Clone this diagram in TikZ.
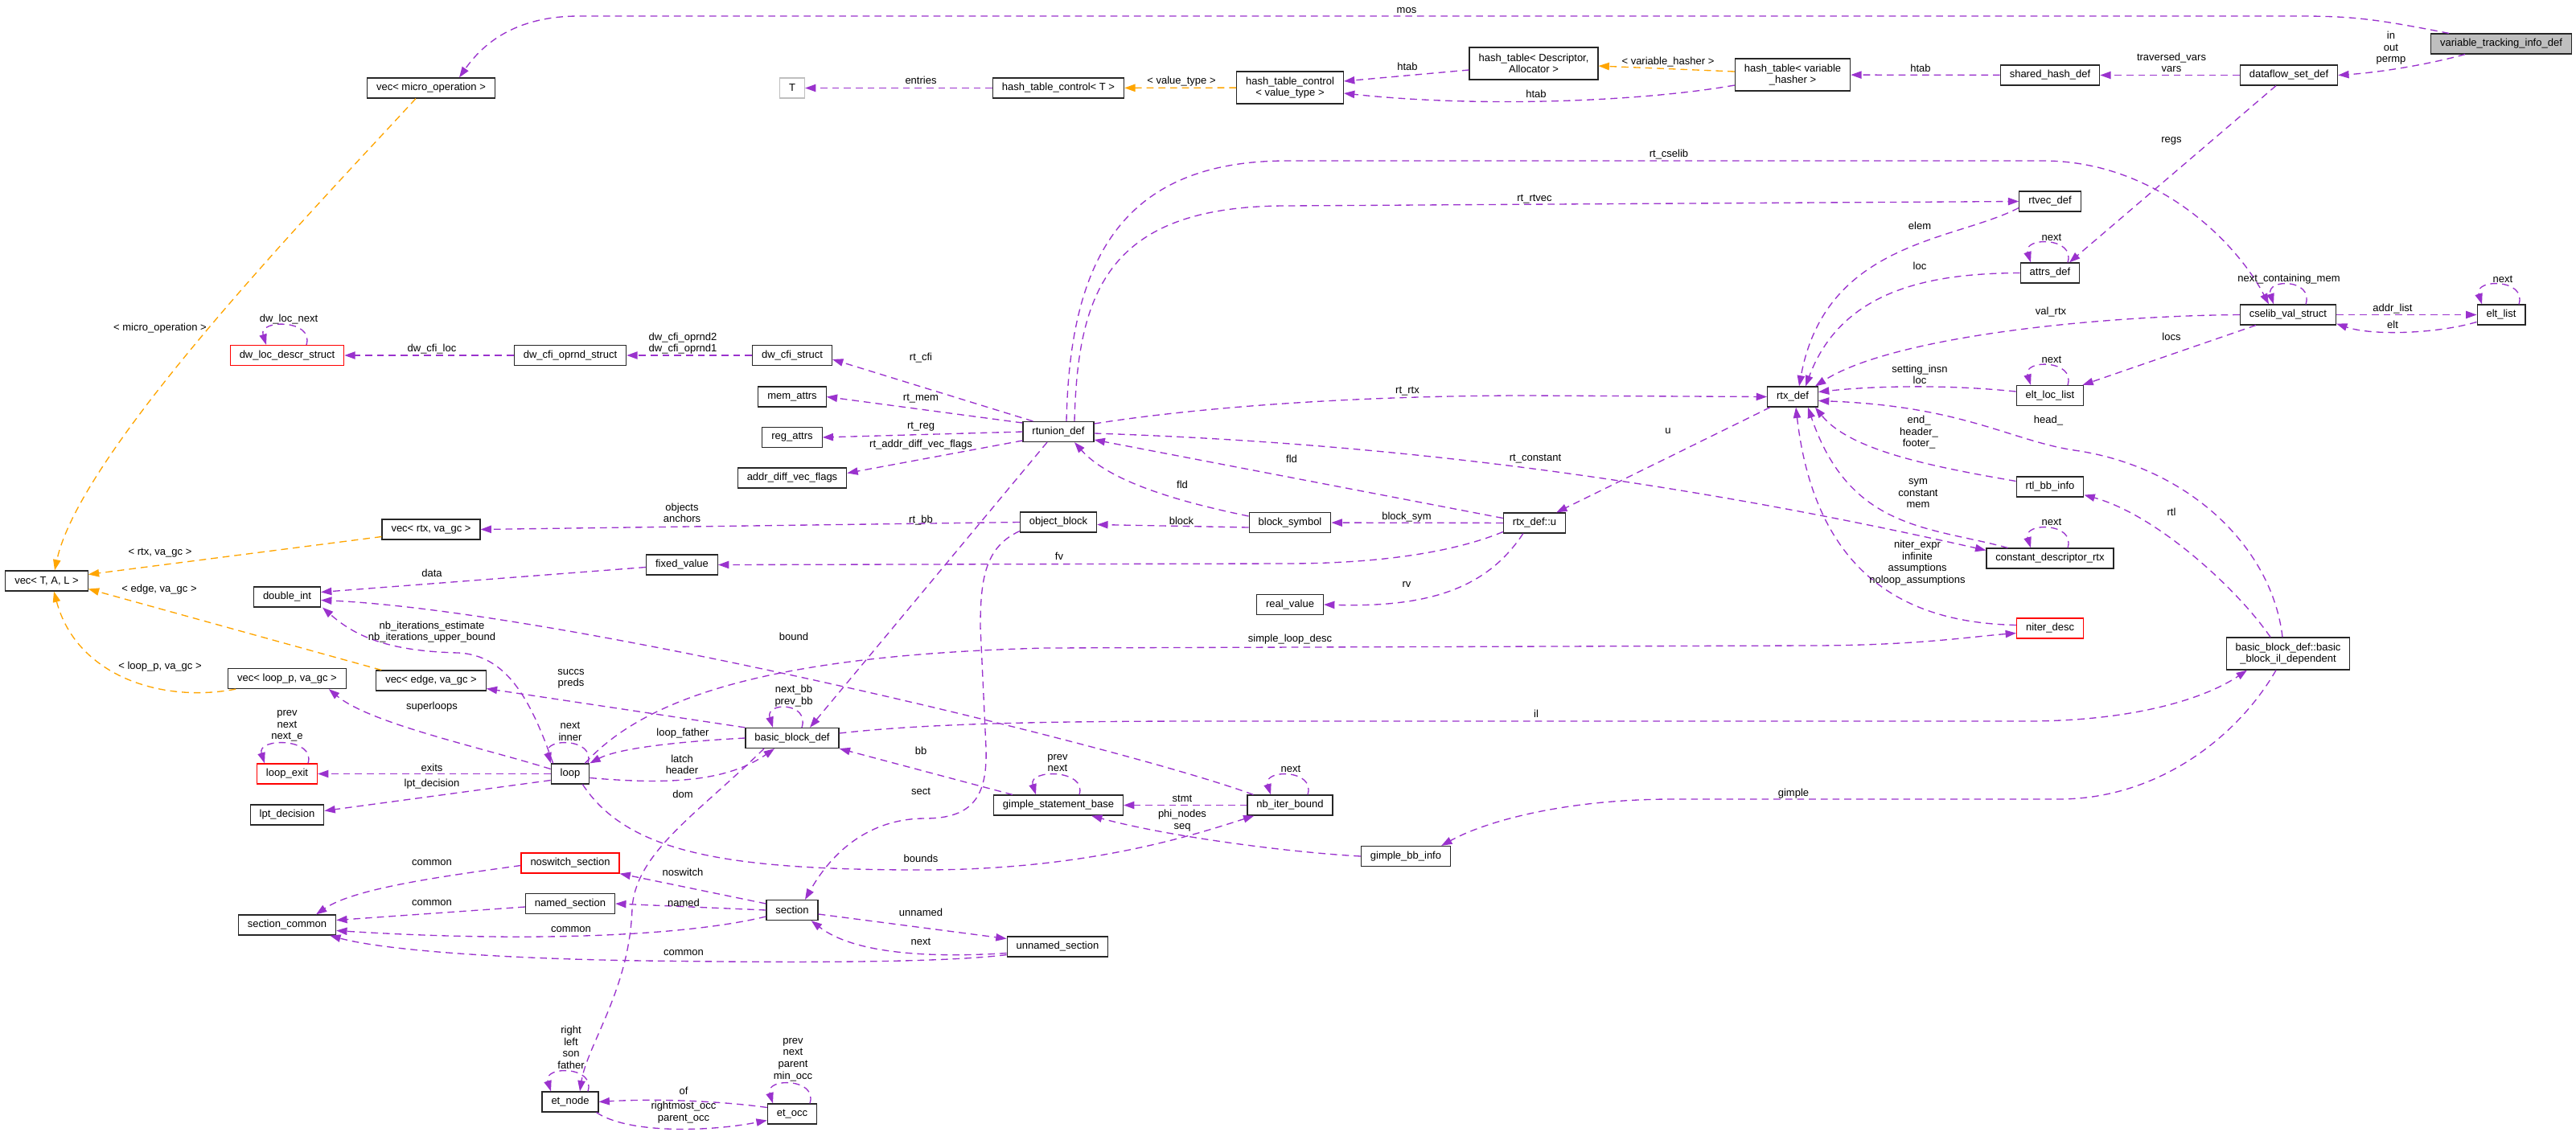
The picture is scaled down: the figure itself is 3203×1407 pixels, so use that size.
\documentclass[tikz,border=0pt]{standalone}
\usepackage{fontspec}
\setmainfont{Liberation Sans}
\usetikzlibrary{arrows.meta,calc}
\definecolor{edgepurple}{HTML}{9A32CD}
\definecolor{tmplorange}{HTML}{FFA500}
\definecolor{rootgray}{HTML}{BFBFBF}

\begin{document}
\begin{tikzpicture}[x=0.75pt,y=-0.75pt,
  every node/.style={font=\fontsize{9.75pt}{10.9pt}\selectfont},
  cls/.style={draw=black!85, line width=0.9pt, fill=white, inner xsep=8.6pt, inner ysep=2pt, minimum height=18.75pt, align=center},
  cls2/.style={cls, minimum height=30pt},
  nodoc/.style={cls, draw=red},
  root/.style={cls, fill=rootgray},
  tpar/.style={cls, draw=rootgray},
  lbl/.style={inner sep=0pt, align=center},
  memb/.style={edgepurple, line width=1pt, dash pattern=on 6.5pt off 4.5pt, -{Triangle[length=10pt,width=7pt]}},
  tmpl/.style={memb, tmplorange}]

  \useasboundingbox (0,0) rectangle (3203,1407);

  % Classes, top band
  \node[root] (vartrack) at (3110,54.5) {variable\_tracking\_info\_def};
  \node[cls] (dataflow) at (2846,93.5) {dataflow\_set\_def};
  \node[cls] (sharedhash) at (2549,93.5) {shared\_hash\_def};
  \node[cls2] (htvar) at (2229,93) {hash\_table< variable\\\_hasher >};
  \node[cls2] (htdesc) at (1907,79) {hash\_table< Descriptor,\\Allocator >};
  \node[cls2] (htcvt) at (1604,109) {hash\_table\_control\\< value\_type >};
  \node[cls] (htct) at (1316,109.5) {hash\_table\_control< T >};
  \node[tpar] (tparam) at (985,109.5) {T};
  \node[cls] (vecmo) at (536,109.5) {vec< micro\_operation >};

  % Classes, rtx part
  \node[cls] (rtvec) at (2549,250.5) {rtvec\_def};
  \node[cls] (attrs) at (2549,339.5) {attrs\_def};
  \node[cls] (cselib) at (2845,391.5) {cselib\_val\_struct};
  \node[cls] (eltlist) at (3110,391.5) {elt\_list};
  \node[cls] (eltloc) at (2549,492) {elt\_loc\_list};
  \node[cls] (rtxdef) at (2229,493.5) {rtx\_def};
  \node[cls] (rtlbb) at (2549,605.5) {rtl\_bb\_info};
  \node[cls] (constdesc) at (2549,694.5) {constant\_descriptor\_rtx};
  \node[nodoc] (niter) at (2549,781.5) {niter\_desc};
  \node[cls2] (bbil) at (2845,813) {basic\_block\_def::basic\\\_block\_il\_dependent};
  \node[cls] (rtxu) at (1908,650.5) {rtx\_def::u};
  \node[cls] (blocksym) at (1604,650) {block\_symbol};
  \node[cls] (realval) at (1604,752) {real\_value};
  \node[cls] (rtunion) at (1316,537) {rtunion\_def};
  \node[cls] (objblock) at (1316,649.5) {object\_block};
  \node[cls] (memattrs) at (985,493.5) {mem\_attrs};
  \node[cls] (regattrs) at (985,544) {reg\_attrs};
  \node[cls] (addrdiff) at (985,594.5) {addr\_diff\_vec\_flags};
  \node[cls] (dwcfi) at (985,442) {dw\_cfi\_struct};
  \node[cls] (dwoprnd) at (709,442) {dw\_cfi\_oprnd\_struct};
  \node[nodoc] (dwloc) at (357,442) {dw\_loc\_descr\_struct};
  \node[cls] (fixedval) at (848,702.5) {fixed\_value};

  % Classes, vec and loop part
  \node[cls] (vectal) at (58,722.5) {vec< T, A, L >};
  \node[cls] (vecrtx) at (536,658.5) {vec< rtx, va\_gc >};
  \node[cls] (doubleint) at (357,742.5) {double\_int};
  \node[cls] (vecloop) at (357,844) {vec< loop\_p, va\_gc >};
  \node[cls] (vecedge) at (536,846.5) {vec< edge, va\_gc >};
  \node[cls] (bbdef) at (985,918) {basic\_block\_def};
  \node[nodoc] (loopexit) at (357,962.5) {loop\_exit};
  \node[cls] (loopn) at (709,962.5) {loop};
  \node[cls] (lptdec) at (357,1013.5) {lpt\_decision};
  \node[cls] (gsb) at (1316,1001.5) {gimple\_statement\_base};
  \node[cls] (nbiter) at (1604,1001.5) {nb\_iter\_bound};
  \node[cls] (gimplebb) at (1748,1065) {gimple\_bb\_info};

  % Classes, sections and et
  \node[nodoc] (noswitch) at (709,1073.5) {noswitch\_section};
  \node[cls] (namedsec) at (709,1124) {named\_section};
  \node[cls] (seccommon) at (357,1150.5) {section\_common};
  \node[cls] (section) at (985,1132) {section};
  \node[cls] (unnamedsec) at (1315,1177.5) {unnamed\_section};
  \node[cls] (etnode) at (709,1370.5) {et\_node};
  \node[cls] (etocc) at (985,1385.5) {et\_occ};

  % Member edges, top band
  \draw[memb] ($(vartrack.north)+(-65,0)$) .. controls (2960,25) and (2930,20) .. (2860,20) -- (720,20) .. controls (640,20) and (600,55) .. ($(vecmo.north)+(35,0)$);
  \draw[memb] ($(vartrack.south)+(-45,0)$) .. controls (3020,80) and (2960,90) .. (dataflow.east);
  \draw[memb] (dataflow) -- (sharedhash);
  \draw[memb] (sharedhash) -- (htvar);
  \draw[tmpl] ($(htvar.west)+(0,-4)$) -- ($(htdesc.east)+(0,3)$);
  \draw[memb] ($(htdesc.west)+(0,8)$) -- ($(htcvt.east)+(0,-8)$);
  \draw[memb] ($(htvar.west)+(0,13)$) .. controls (2050,125) and (1850,135) .. ($(htcvt.east)+(0,7)$);
  \draw[tmpl] (htcvt) -- (htct);
  \draw[memb] (htct) -- (tparam);
  \draw[memb] ($(dataflow.south)+(-16,0)$) -- ($(attrs.north)+(24,0)$);

  % Member edges, rtx part
  \draw[memb] ($(rtvec.west)+(0,8)$) .. controls (2430,300) and (2270,300) .. ($(rtxdef.north)+(8,0)$);
  \draw[memb] (attrs.west) .. controls (2400,340) and (2290,360) .. ($(rtxdef.north)+(16,0)$);
  \draw[memb] ($(rtunion.north)+(20,0)$) .. controls (1340,360) and (1380,256) .. (1600,256) -- (rtvec.west);
  \draw[memb] ($(rtunion.north)+(10,0)$) .. controls (1330,330) and (1390,200) .. (1600,200) -- (2540,200) .. controls (2680,200) and (2780,300) .. ($(cselib.north)+(-24,0)$);
  \draw[memb] (cselib) -- (eltlist);
  \draw[memb] ($(eltlist.west)+(0,9)$) .. controls (3030,415) and (2950,418) .. ($(cselib.south east)+(0,-2)$);
  \draw[memb] (cselib.west) .. controls (2600,393) and (2350,420) .. ($(rtxdef.north east)+(-4,0)$);
  \draw[memb] ($(cselib.south west)+(20,0)$) -- ($(eltloc.north east)+(-2,0)$);
  \draw[memb] ($(eltloc.west)+(0,-5)$) .. controls (2420,478) and (2330,480) .. ($(rtxdef.east)+(0,-6)$);
  \draw[memb] ($(rtunion.east)+(0,-10)$) .. controls (1500,505) and (1700,492) .. (1900,492) -- (rtxdef.west);
  \draw[memb] ($(rtxdef.south west)+(4,0)$) -- ($(rtxu.north east)+(-12,0)$);
  \draw[memb] ($(rtxu.west)+(0,-6)$) -- ($(rtunion.east)+(0,10)$);
  \draw[memb] ($(rtunion.east)+(0,2)$) .. controls (1700,550) and (2050,590) .. ($(constdesc.west)+(0,-10)$);
  \draw[memb] ($(constdesc.north west)+(27,0)$) .. controls (2400,655) and (2300,660) .. ($(rtxdef.south)+(19,0)$);
  \draw[memb] ($(rtlbb.west)+(0,-7)$) .. controls (2400,580) and (2300,560) .. ($(rtxdef.south east)+(-4,0)$);
  \draw[memb] ($(bbil.north)+(-7,0)$) .. controls (2825,680) and (2720,580) .. (2579,560) .. controls (2500,548) and (2440,505) .. ($(rtxdef.east)+(0,5)$);
  \draw[memb] ($(bbil.north)+(-22,0)$) .. controls (2780,730) and (2680,640) .. ($(rtlbb.south east)+(0,-3)$);
  \draw[memb] ($(niter.west)+(0,-4)$) .. controls (2400,775) and (2260,740) .. ($(rtxdef.south)+(4,0)$);
  \draw[memb] ($(blocksym.west)+(0,6)$) -- ($(objblock.east)+(0,3)$);
  \draw[memb] ($(blocksym.west)+(0,-8)$) .. controls (1470,625) and (1380,600) .. ($(rtunion.south)+(20,0)$);
  \draw[memb] (rtxu) -- (blocksym);
  \draw[memb] ($(rtxu.west)+(0,11)$) .. controls (1800,690) and (1700,701) .. (1600,701) -- (fixedval.east);
  \draw[memb] ($(rtxu.south west)+(25,0)$) .. controls (1850,730) and (1780,756) .. (realval.east);
  \draw[memb] ($(rtunion.west)+(0,-11)$) -- (memattrs.east);
  \draw[memb] (rtunion.west) -- (regattrs.east);
  \draw[memb] ($(rtunion.west)+(0,11)$) -- ($(addrdiff.east)+(0,-6)$);
  \draw[memb] ($(rtunion.north west)+(13,0)$) -- ($(dwcfi.east)+(0,5)$);
  \draw[memb] (dwcfi) -- (dwoprnd);
  \draw[memb] (dwoprnd) -- (dwloc);
  \draw[memb] ($(rtunion.south)+(-14,0)$) -- ($(bbdef.north)+(22,0)$);
  \draw[memb] ($(objblock.south west)+(0,-2)$) .. controls (1225,680) and (1219,720) .. (1219,780) -- (1226,930) .. controls (1228,990) and (1210,1018) .. (1150,1018) .. controls (1090,1018) and (1040,1050) .. ($(section.north)+(16,0)$);
  \draw[memb] (objblock.west) -- (vecrtx.east);

  % Template edges
  \draw[tmpl] ($(vecmo.south)+(-19,0)$) .. controls (400,250) and (100,560) .. ($(vectal.north)+(10,0)$);
  \draw[tmpl] ($(vecrtx.west)+(0,9)$) -- ($(vectal.east)+(0,-8)$);
  \draw[tmpl] ($(vecedge.north west)+(7,0)$) -- ($(vectal.east)+(0,10)$);
  \draw[tmpl] ($(vecloop.south west)+(10,0)$) .. controls (200,875) and (95,840) .. ($(vectal.south)+(9,0)$);

  % Member edges, loop part
  \draw[memb] ($(fixedval.west)+(0,3)$) -- ($(doubleint.east)+(0,-6)$);
  \draw[memb] ($(nbiter.north west)+(8,0)$) .. controls (1400,930) and (700,760) .. ($(doubleint.east)+(0,4)$);
  \draw[memb] ($(loopn.north west)+(3,0)$) .. controls (660,870) and (630,815) .. (570,812) .. controls (480,810) and (440,790) .. ($(doubleint.south east)+(2,0)$);
  \draw[memb] ($(loopn.west)+(0,-6)$) .. controls (600,930) and (460,900) .. ($(vecloop.south east)+(-22,0)$);
  \draw[memb] (bbdef.north west) -- ($(vecedge.east)+(0,10)$);
  \draw[memb] ($(loopn.north east)+(-6,0)$) .. controls (800,870) and (950,815) .. (1300,806) -- (2250,803) .. controls (2380,803) and (2450,792) .. ($(niter.west)+(0,6)$);
  \draw[memb] ($(loopn.east)+(0,5)$) .. controls (820,975) and (900,975) .. ($(bbdef.south)+(-22,0)$);
  \draw[memb] (bbdef.west) .. controls (850,922) and (770,930) .. (loopn.north east);
  \draw[memb] ($(loopn.south east)+(-9,0)$) .. controls (780,1060) and (900,1082) .. (1146,1082) .. controls (1350,1082) and (1480,1040) .. ($(nbiter.south west)+(9,0)$);
  \draw[memb] (loopn) -- (loopexit);
  \draw[memb] ($(loopn.west)+(0,8)$) -- ($(lptdec.east)+(0,-5)$);
  \draw[memb] ($(bbdef.east)+(0,-6)$) .. controls (1150,900) and (1300,897) .. (1500,897) -- (2520,897) .. controls (2650,897) and (2740,870) .. ($(bbil.south)+(-51,0)$);
  \draw[memb] ($(bbil.south)+(-15,0)$) .. controls (2780,920) and (2680,994) .. (2560,994) -- (2080,994) .. controls (1950,994) and (1850,1020) .. ($(gimplebb.north east)+(-12,0)$);
  \draw[memb] (gimplebb.west) .. controls (1600,1060) and (1450,1040) .. ($(gsb.south east)+(-40,0)$);
  \draw[memb] (nbiter) -- (gsb);
  \draw[memb] ($(gsb.north west)+(24,0)$) -- (bbdef.south east);
  \draw[memb] ($(bbdef.south)+(-35,0)$) .. controls (870,1010) and (790,1060) .. (786,1130) .. controls (783,1230) and (730,1300) .. ($(etnode.north)+(12,0)$);

  % Member edges, sections and et
  \draw[memb] ($(section.west)+(0,-8)$) -- (noswitch.south east);
  \draw[memb] (section.west) -- (namedsec.east);
  \draw[memb] ($(section.west)+(0,8)$) .. controls (850,1165) and (650,1172) .. ($(seccommon.east)+(0,7)$);
  \draw[memb] ($(noswitch.west)+(0,3)$) .. controls (550,1090) and (440,1105) .. ($(seccommon.north)+(36,0)$);
  \draw[memb] ($(namedsec.west)+(0,4)$) -- ($(seccommon.east)+(0,-6)$);
  \draw[memb] ($(unnamedsec.south west)+(0,-3)$) .. controls (1150,1200) and (900,1196) .. (800,1195) .. controls (600,1192) and (470,1180) .. ($(seccommon.south east)+(-8,0)$);
  \draw[memb] ($(section.east)+(0,5)$) -- ($(unnamedsec.west)+(0,-10)$);
  \draw[memb] ($(unnamedsec.west)+(0,8)$) .. controls (1150,1192) and (1060,1185) .. ($(section.south east)+(-9,0)$);
  \draw[memb] ($(etocc.west)+(0,-8)$) .. controls (900,1370) and (820,1366) .. (etnode.east);
  \draw[memb] ($(etnode.south east)+(-3,0)$) .. controls (780,1410) and (880,1408) .. ($(etocc.west)+(0,8)$);

  % Self references
  \draw[memb] ($(dwloc.north)+(24,0)$) .. controls +(10,-32) and +(-10,-32) .. ($(dwloc.north)+(-26,0)$);
  \draw[memb] ($(attrs.north)+(22,0)$) .. controls +(10,-32) and +(-10,-32) .. ($(attrs.north)+(-24,0)$);
  \draw[memb] ($(cselib.north)+(22,0)$) .. controls +(10,-32) and +(-10,-32) .. ($(cselib.north)+(-18,0)$);
  \draw[memb] ($(eltlist.north)+(22,0)$) .. controls +(10,-32) and +(-10,-32) .. ($(eltlist.north)+(-24,0)$);
  \draw[memb] ($(eltloc.north)+(22,0)$) .. controls +(10,-32) and +(-10,-32) .. ($(eltloc.north)+(-24,0)$);
  \draw[memb] ($(constdesc.north)+(22,0)$) .. controls +(10,-32) and +(-10,-32) .. ($(constdesc.north)+(-24,0)$);
  \draw[memb] ($(bbdef.north)+(12,0)$) .. controls +(10,-32) and +(-10,-32) .. ($(bbdef.north)+(-24,0)$);
  \draw[memb] ($(loopn.north)+(22,0)$) .. controls +(10,-32) and +(-10,-32) .. ($(loopn.north)+(-24,0)$);
  \draw[memb] ($(loopexit.north)+(26,0)$) .. controls +(10,-32) and +(-10,-32) .. ($(loopexit.north)+(-28,0)$);
  \draw[memb] ($(gsb.north)+(26,0)$) .. controls +(10,-32) and +(-10,-32) .. ($(gsb.north)+(-28,0)$);
  \draw[memb] ($(nbiter.north)+(22,0)$) .. controls +(10,-32) and +(-10,-32) .. ($(nbiter.north)+(-24,0)$);
  \draw[memb] ($(etnode.north)+(22,0)$) .. controls +(10,-32) and +(-10,-32) .. ($(etnode.north)+(-24,0)$);
  \draw[memb] ($(etocc.north)+(22,0)$) .. controls +(10,-32) and +(-10,-32) .. ($(etocc.north)+(-24,0)$);

  % Labels
  \node[lbl] (l-mos) at (1749,13) {mos};
  \node[lbl] (l-inout) at (2973,60) {in\\out\\permp};
  \node[lbl] (l-vars) at (2700,78) {traversed\_vars\\vars};
  \node[lbl] (l-htab1) at (2388,85) {htab};
  \node[lbl] (l-varhash) at (2074,77) {< variable\_hasher >};
  \node[lbl] (l-htab2) at (1750,83) {htab};
  \node[lbl] (l-htab3) at (1910,117) {htab};
  \node[lbl] (l-valtype) at (1469,101) {< value\_type >};
  \node[lbl] (l-entries) at (1145,100) {entries};
  \node[lbl] (l-regs) at (2700,175) {regs};
  \node[lbl] (l-cselib) at (2075,192) {rt\_cselib};
  \node[lbl] (l-rtvec) at (1908,248) {rt\_rtvec};
  \node[lbl] (l-elem) at (2387,281) {elem};
  \node[lbl] (l-attrsnext) at (2551,295) {next};
  \node[lbl] (l-loc) at (2387,331) {loc};
  \node[lbl] (l-ncm) at (2846,347) {next\_containing\_mem};
  \node[lbl] (l-eltnext) at (3112,347) {next};
  \node[lbl] (l-addr) at (2975,384) {addr\_list};
  \node[lbl] (l-elt) at (2975,404) {elt};
  \node[lbl] (l-valrtx) at (2550,388) {val\_rtx};
  \node[lbl] (l-locs) at (2700,419) {locs};
  \node[lbl] (l-locnext) at (2551,447) {next};
  \node[lbl] (l-setting) at (2387,466) {setting\_insn\\loc};
  \node[lbl] (l-head) at (2547,523) {head\_};
  \node[lbl] (l-end) at (2386,538) {end\_\\header\_\\footer\_};
  \node[lbl] (l-sym) at (2385,614) {sym\\constant\\mem};
  \node[lbl] (l-rtl) at (2700,637) {rtl};
  \node[lbl] (l-cdnext) at (2551,649) {next};
  \node[lbl] (l-niter) at (2384,700) {niter\_expr\\infinite\\assumptions\\noloop\_assumptions};
  \node[lbl] (l-rtrtx) at (1750,487) {rt\_rtx};
  \node[lbl] (l-u) at (2074,536) {u};
  \node[lbl] (l-fld1) at (1606,571) {fld};
  \node[lbl] (l-rtconst) at (1909,571) {rt\_constant};
  \node[lbl] (l-fld2) at (1470,603) {fld};
  \node[lbl] (l-blocksym) at (1749,643) {block\_sym};
  \node[lbl] (l-block) at (1469,648) {block};
  \node[lbl] (l-fv) at (1317,692) {fv};
  \node[lbl] (l-rv) at (1749,727) {rv};
  \node[lbl] (l-sld) at (1604,795) {simple\_loop\_desc};
  \node[lbl] (l-il) at (1910,888) {il};
  \node[lbl] (l-gimple) at (2230,987) {gimple};
  \node[lbl] (l-dwnext) at (359,397) {dw\_loc\_next};
  \node[lbl] (l-microop) at (199,408) {< micro\_operation >};
  \node[lbl] (l-dwloc) at (537,434) {dw\_cfi\_loc};
  \node[lbl] (l-oprnd) at (849,427) {dw\_cfi\_oprnd2\\dw\_cfi\_oprnd1};
  \node[lbl] (l-rtcfi) at (1145,445) {rt\_cfi};
  \node[lbl] (l-rtmem) at (1145,496) {rt\_mem};
  \node[lbl] (l-rtreg) at (1145,531) {rt\_reg};
  \node[lbl] (l-rtaddr) at (1145,553) {rt\_addr\_diff\_vec\_flags};
  \node[lbl] (l-objects) at (848,638) {objects\\anchors};
  \node[lbl] (l-rtbb) at (1145,647) {rt\_bb};
  \node[lbl] (l-rtxva) at (199,688) {< rtx, va\_gc >};
  \node[lbl] (l-data) at (537,713) {data};
  \node[lbl] (l-edgeva) at (198,733) {< edge, va\_gc >};
  \node[lbl] (l-nbit) at (537,786) {nb\_iterations\_estimate\\nb\_iterations\_upper\_bound};
  \node[lbl] (l-bound) at (987,792) {bound};
  \node[lbl] (l-loopva) at (199,829) {< loop\_p, va\_gc >};
  \node[lbl] (l-succs) at (710,844.5) {succs\\preds};
  \node[lbl] (l-bbnext) at (987,865.5) {next\_bb\\prev\_bb};
  \node[lbl] (l-superloops) at (537,879) {superloops};
  \node[lbl] (l-exitnext) at (357,903) {prev\\next\\next\_e};
  \node[lbl] (l-inner) at (709,910) {next\\inner};
  \node[lbl] (l-father) at (849,912) {loop\_father};
  \node[lbl] (l-bb) at (1145,934) {bb};
  \node[lbl] (l-latch) at (848,951) {latch\\header};
  \node[lbl] (l-gsbnext) at (1315,949) {prev\\next};
  \node[lbl] (l-exits) at (537,955) {exits};
  \node[lbl] (l-nbnext) at (1605,956) {next};
  \node[lbl] (l-lpt) at (537,975) {lpt\_decision};
  \node[lbl] (l-sect) at (1145,984) {sect};
  \node[lbl] (l-dom) at (849,988) {dom};
  \node[lbl] (l-stmt) at (1470,993) {stmt};
  \node[lbl] (l-phi) at (1470,1020.5) {phi\_nodes\\seq};
  \node[lbl] (l-bounds) at (1145,1068) {bounds};
  \node[lbl] (l-common1) at (537,1073) {common};
  \node[lbl] (l-noswitch) at (849,1085) {noswitch};
  \node[lbl] (l-common2) at (537,1123) {common};
  \node[lbl] (l-named) at (850,1123) {named};
  \node[lbl] (l-unnamed) at (1145,1135) {unnamed};
  \node[lbl] (l-common3) at (710,1156) {common};
  \node[lbl] (l-secnext) at (1145,1171) {next};
  \node[lbl] (l-common4) at (850,1185) {common};
  \node[lbl] (l-etnode) at (710,1303) {right\\left\\son\\father};
  \node[lbl] (l-etocc) at (986,1318) {prev\\next\\parent\\min\_occ};
  \node[lbl] (l-of) at (850,1357) {of};
  \node[lbl] (l-occ) at (850,1383.5) {rightmost\_occ\\parent\_occ};

\end{tikzpicture}
\end{document}
